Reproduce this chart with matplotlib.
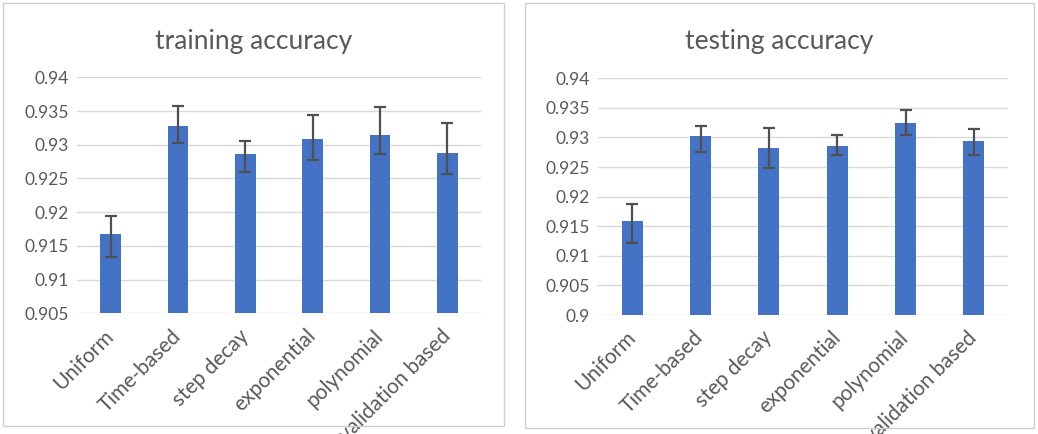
import matplotlib.pyplot as plt
from matplotlib.patches import Rectangle
from matplotlib.ticker import FuncFormatter
import numpy as np

plt.rcParams['font.family'] = ['Lato', 'DejaVu Sans']

methods = ['Uniform', 'Time-based', 'step decay', 'exponential', 'polynomial', 'validation based']

# training accuracy: bar value, upper and lower error-bar ends
train_acc = [0.9168, 0.9328, 0.9286, 0.9308, 0.9315, 0.9288]
train_hi = [0.9194, 0.9358, 0.9306, 0.9344, 0.9356, 0.9332]
train_lo = [0.9133, 0.9302, 0.9259, 0.9277, 0.9286, 0.9257]

# testing accuracy
test_acc = [0.9159, 0.9303, 0.9283, 0.9286, 0.9324, 0.9294]
test_hi = [0.9188, 0.9319, 0.9316, 0.9304, 0.9346, 0.9314]
test_lo = [0.9122, 0.9276, 0.9248, 0.9270, 0.9304, 0.9270]

bar_col = '#4472C4'
txt_col = '#595959'
grid_col = '#D9D9D9'

fig = plt.figure(figsize=(10.38, 4.34), dpi=100)

# panel frames (pixel boxes of the two chart areas)
W, H = 1038, 434
for x0, x1, y0, y1 in [(3, 504, 3, 426), (525, 1034, 3, 428)]:
    fig.patches.append(Rectangle((x0 / W, 1 - y1 / H), (x1 - x0) / W, (y1 - y0) / H,
                                 transform=fig.transFigure, fill=False,
                                 edgecolor='#D0D0D0', linewidth=1.0))

fmt = FuncFormatter(lambda v, p: f"{round(v, 4):g}")


def draw(ax, vals, hi, lo, ylim, title, cx):
    x = np.arange(len(methods))
    vals = np.array(vals)
    err = [vals - np.array(lo), np.array(hi) - vals]
    ax.bar(x, vals, width=0.31, color=bar_col, zorder=2)
    ax.errorbar(x, vals, yerr=err, fmt='none', ecolor='#505050',
                elinewidth=1.6, capsize=4.5, capthick=1.6, zorder=3)
    ax.set_ylim(*ylim)
    ax.set_yticks(np.arange(ylim[0], ylim[1] + 1e-9, 0.005))
    ax.yaxis.set_major_formatter(fmt)
    ax.set_xlim(-0.5, len(methods) - 0.5)
    ax.set_xticks(x)
    ax.set_xticklabels(methods, rotation=45, ha='right', va='center',
                       rotation_mode='anchor')
    ax.grid(axis='y', color=grid_col, linewidth=1.0, zorder=0)
    for s in ax.spines.values():
        s.set_visible(False)
    ax.tick_params(length=0, labelsize=12.5, colors=txt_col, pad=6)
    ax.tick_params(axis='x', labelsize=15, pad=14)
    fig.text(cx, 1 - 42 / H, title, ha='center', va='center', fontsize=19, color=txt_col)


ax1 = fig.add_axes([77 / W, 1 - 313.3 / H, (481 - 77) / W, (313.3 - 77.3) / H])
draw(ax1, train_acc, train_hi, train_lo, (0.905, 0.94), 'training accuracy', 253.5 / W)

ax2 = fig.add_axes([598 / W, 1 - 315 / H, (1008 - 598) / W, (315 - 78.3) / H])
draw(ax2, test_acc, test_hi, test_lo, (0.9, 0.94), 'testing accuracy', 779.5 / W)

fig.savefig('out.png', dpi=100)
